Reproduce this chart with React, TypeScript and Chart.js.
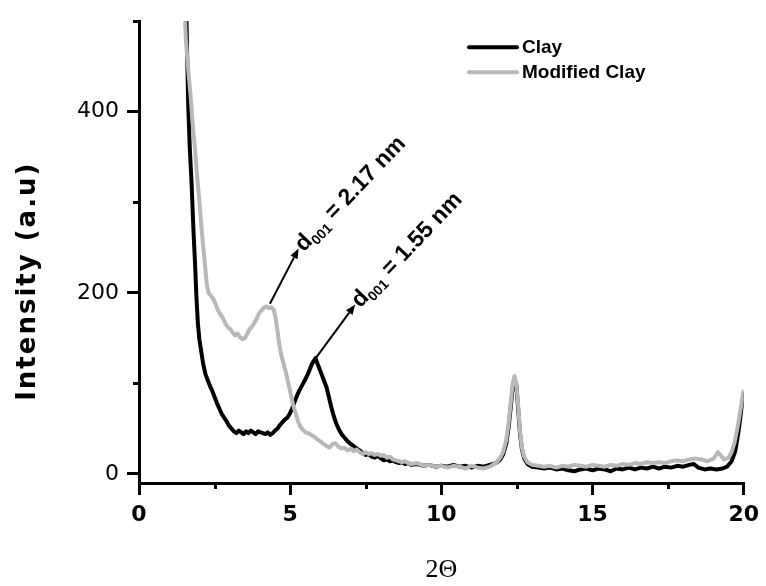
import React, { useEffect, useRef } from "react";
import { Chart, registerables } from "chart.js";
Chart.register(...registerables);

// 2Θ (degrees) and intensity (a.u.)
const clayTheta = [1.56, 1.6, 1.63, 1.68, 1.74, 1.8, 1.85, 1.9, 1.95, 2.0, 2.06, 2.12, 2.2, 2.28, 2.35, 2.42, 2.5, 2.58, 2.66, 2.74, 2.82, 2.9, 2.98, 3.06, 3.14, 3.22, 3.3, 3.38, 3.46, 3.54, 3.62, 3.7, 3.78, 3.86, 3.94, 4.02, 4.1, 4.18, 4.26, 4.34, 4.42, 4.5, 4.58, 4.66, 4.74, 4.82, 4.9, 4.98, 5.06, 5.14, 5.22, 5.3, 5.38, 5.46, 5.54, 5.62, 5.7, 5.78, 5.84, 5.9, 5.96, 6.04, 6.12, 6.2, 6.28, 6.36, 6.44, 6.52, 6.6, 6.7, 6.8, 6.9, 7.0, 7.1, 7.2, 7.3, 7.4, 7.5, 7.6, 7.7, 7.8, 7.9, 8.0, 8.1, 8.2, 8.3, 8.4, 8.5, 8.6, 8.7, 8.8, 8.9, 9.0, 9.2, 9.4, 9.6, 9.8, 10.0, 10.2, 10.4, 10.6, 10.8, 11.0, 11.2, 11.4, 11.6, 11.8, 11.95, 12.05, 12.15, 12.22, 12.3, 12.36, 12.42, 12.48, 12.54, 12.6, 12.66, 12.74, 12.85, 13.0, 13.2, 13.4, 13.6, 13.8, 14.0, 14.2, 14.4, 14.6, 14.8, 15.0, 15.2, 15.4, 15.6, 15.8, 16.0, 16.2, 16.4, 16.6, 16.8, 17.0, 17.2, 17.4, 17.6, 17.8, 18.0, 18.2, 18.35, 18.5, 18.7, 18.9, 19.1, 19.3, 19.45, 19.6, 19.72, 19.82, 19.9, 20.0];
const clayIntensity = [520, 450, 405, 360, 320, 270, 235, 195, 165, 148, 135, 122, 110, 103, 97, 92, 85, 78, 72, 66, 62, 58, 53, 50, 47, 45, 48, 46, 44, 47, 45, 48, 46, 44, 47, 46, 45, 44, 46, 43, 45, 48, 50, 54, 57, 60, 62, 66, 72, 79, 86, 92, 97, 102, 107, 113, 120, 125, 128, 122, 117, 110, 103, 96, 85, 74, 64, 56, 50, 44, 40, 36, 33, 31, 28, 26, 23, 21, 22, 19, 18, 20, 17, 15, 16, 14, 15, 13, 12, 13, 11, 12, 10, 11, 9, 10, 8, 9, 8, 10, 8, 9, 7, 9, 8, 10, 12, 16, 22, 34, 50, 75, 95, 105, 98, 72, 45, 28, 17, 11, 8, 7, 6, 7, 5, 6, 4, 3, 5, 6, 4, 6, 5, 3, 6, 5, 7, 5, 7, 6, 8, 6, 8, 7, 9, 8, 10, 11, 7, 5, 6, 5, 6, 8, 14, 25, 45, 65, 90];

const modTheta = [1.5, 1.55, 1.62, 1.7, 1.78, 1.85, 1.92, 2.0, 2.06, 2.12, 2.18, 2.24, 2.3, 2.38, 2.46, 2.54, 2.62, 2.7, 2.78, 2.86, 2.94, 3.02, 3.1, 3.18, 3.26, 3.34, 3.42, 3.5, 3.58, 3.66, 3.74, 3.82, 3.9, 3.98, 4.06, 4.14, 4.22, 4.3, 4.38, 4.46, 4.52, 4.58, 4.64, 4.7, 4.78, 4.86, 4.94, 5.02, 5.1, 5.18, 5.26, 5.34, 5.42, 5.5, 5.6, 5.7, 5.8, 5.9, 6.0, 6.1, 6.2, 6.3, 6.4, 6.5, 6.6, 6.7, 6.8, 6.9, 7.0, 7.1, 7.2, 7.3, 7.4, 7.5, 7.6, 7.7, 7.8, 7.9, 8.0, 8.1, 8.2, 8.3, 8.4, 8.5, 8.6, 8.7, 8.8, 8.9, 9.0, 9.2, 9.4, 9.6, 9.8, 10.0, 10.2, 10.4, 10.6, 10.8, 11.0, 11.2, 11.4, 11.6, 11.8, 11.95, 12.05, 12.15, 12.22, 12.3, 12.36, 12.42, 12.48, 12.54, 12.6, 12.66, 12.74, 12.85, 13.0, 13.2, 13.4, 13.6, 13.8, 14.0, 14.2, 14.4, 14.6, 14.8, 15.0, 15.2, 15.4, 15.6, 15.8, 16.0, 16.2, 16.4, 16.6, 16.8, 17.0, 17.2, 17.4, 17.6, 17.8, 18.0, 18.2, 18.4, 18.6, 18.8, 19.0, 19.15, 19.25, 19.35, 19.5, 19.6, 19.7, 19.8, 19.9, 20.0];
const modIntensity = [520, 480, 450, 420, 385, 360, 330, 300, 275, 252, 232, 210, 200, 197, 193, 187, 180, 176, 172, 166, 162, 160, 156, 153, 155, 151, 149, 150, 155, 160, 163, 167, 172, 178, 181, 184, 185, 183, 184, 181, 172, 158, 143, 132, 122, 112, 100, 88, 76, 67, 58, 52, 49, 46, 45, 43, 41, 38, 36, 33, 31, 29, 33, 34, 30, 28, 29, 26, 28, 25, 27, 24, 22, 24, 22, 23, 21, 22, 20, 21, 18, 19, 16, 15, 14, 13, 14, 12, 11, 12, 9, 10, 8, 9, 7, 9, 8, 6, 9, 7, 6, 8, 12, 18, 25, 38, 55, 80, 100, 108, 100, 76, 48, 30, 19, 13, 10, 9, 8, 9, 7, 9, 8, 10, 9, 8, 10, 9, 8, 10, 9, 11, 10, 12, 11, 13, 12, 13, 12, 14, 15, 14, 16, 17, 16, 14, 17, 24, 20, 16, 18, 24, 35, 52, 72, 93];

const xTicks = [0, 5, 10, 15, 20];
const yTicks = [0, 200, 400];
const xMinorTicks = [2.5, 7.5, 12.5, 17.5];
const yMinorTicks = [100, 300, 500];

const seriesNames = ["Clay", "Modified Clay"];
const seriesColors = ["#000000", "#b8b8b8"];
const yTitle = "Intensity (a.u)";

// annotation arrows: [θ, I] of tail and head, and their labels
const arrowFrom = [[4.33, 188], [5.87, 129]];
const arrowTo = [[5.28, 249], [7.15, 187]];
const arrowValues = ["2.17", "1.55"];

const decorPlugin = {
  id: "decor",
  afterDraw(chart: any) {
    const { ctx, chartArea, scales } = chart;
    const xs = scales.x;
    const ys = scales.y;
    ctx.save();
    ctx.strokeStyle = "#000";
    ctx.lineWidth = 3;
    yMinorTicks.forEach((v) => {
      const py = Math.round(ys.getPixelForValue(v)) + 0.5;
      ctx.beginPath();
      ctx.moveTo(chartArea.left - 6, py);
      ctx.lineTo(chartArea.left, py);
      ctx.stroke();
    });
    xMinorTicks.forEach((v) => {
      const px = Math.round(xs.getPixelForValue(v)) + 0.5;
      ctx.beginPath();
      ctx.moveTo(px, chartArea.bottom);
      ctx.lineTo(px, chartArea.bottom + 6);
      ctx.stroke();
    });

    // y-axis title
    ctx.save();
    ctx.translate(28, chartArea.top + 260);
    ctx.rotate(-Math.PI / 2);
    ctx.font = "bold 26px 'DejaVu Sans', Verdana, sans-serif";
    (ctx as any).letterSpacing = "2px";
    ctx.textAlign = "center";
    ctx.textBaseline = "middle";
    ctx.fillStyle = "#000";
    ctx.fillText(yTitle, 0, 0);
    ctx.restore();

    // arrows and labels
    arrowFrom.forEach((f, i) => {
      const t = arrowTo[i];
      const x0 = xs.getPixelForValue(f[0]);
      const y0 = ys.getPixelForValue(f[1]);
      const x1 = xs.getPixelForValue(t[0]);
      const y1 = ys.getPixelForValue(t[1]);
      const ang = Math.atan2(y1 - y0, x1 - x0);
      const hl = 10;
      const hw = 4;
      ctx.strokeStyle = "#000";
      ctx.fillStyle = "#000";
      ctx.lineWidth = 2;
      ctx.beginPath();
      ctx.moveTo(x0, y0);
      ctx.lineTo(x1 - hl * Math.cos(ang), y1 - hl * Math.sin(ang));
      ctx.stroke();
      ctx.beginPath();
      ctx.moveTo(x1, y1);
      ctx.lineTo(x1 - hl * Math.cos(ang) + hw * Math.sin(ang), y1 - hl * Math.sin(ang) - hw * Math.cos(ang));
      ctx.lineTo(x1 - hl * Math.cos(ang) - hw * Math.sin(ang), y1 - hl * Math.sin(ang) + hw * Math.cos(ang));
      ctx.closePath();
      ctx.fill();

      ctx.save();
      ctx.translate(x1 + 5, y1 + 4);
      ctx.rotate(-0.81);
      ctx.textBaseline = "alphabetic";
      ctx.textAlign = "left";
      ctx.font = "bold 23px 'Liberation Sans', Arial, sans-serif";
      let cx = 0;
      ctx.fillText("d", cx, 0);
      cx += ctx.measureText("d").width;
      ctx.font = "bold 14px 'Liberation Sans', Arial, sans-serif";
      ctx.fillText("001", cx, 5);
      cx += ctx.measureText("001").width;
      ctx.font = "bold 23px 'Liberation Sans', Arial, sans-serif";
      ctx.fillText(" = " + arrowValues[i] + " nm", cx, 0);
      ctx.restore();
    });

    // legend
    ctx.font = "bold 19px 'Liberation Sans', Arial, sans-serif";
    ctx.textBaseline = "middle";
    ctx.textAlign = "left";
    seriesNames.forEach((name, i) => {
      const ly = chartArea.top + 26 + i * 25;
      const lx = chartArea.left + 330;
      ctx.strokeStyle = seriesColors[i];
      ctx.lineWidth = 4;
      ctx.lineCap = "round";
      ctx.beginPath();
      ctx.moveTo(lx, ly);
      ctx.lineTo(lx + 48, ly);
      ctx.stroke();
      ctx.fillStyle = "#000";
      ctx.fillText(name, lx + 53, ly + 1);
    });
    ctx.restore();
  },
};

export default function App() {
  const ref = useRef<HTMLCanvasElement | null>(null);
  useEffect(() => {
    if (!ref.current) return;
    const chart = new Chart(ref.current, {
      type: "scatter",
      data: {
        datasets: [
          {
            label: seriesNames[0],
            data: clayTheta.map((x, i) => ({ x, y: clayIntensity[i] })),
            showLine: true,
            borderColor: seriesColors[0],
            borderWidth: 4,
            pointRadius: 0,
            borderJoinStyle: "round",
            order: 1,
          },
          {
            label: seriesNames[1],
            data: modTheta.map((x, i) => ({ x, y: modIntensity[i] })),
            showLine: true,
            borderColor: seriesColors[1],
            borderWidth: 4,
            pointRadius: 0,
            borderJoinStyle: "round",
            order: 0,
          },
        ],
      },
      options: {
        responsive: false,
        animation: false,
        layout: { padding: { top: 17, right: 17, left: 0, bottom: 0 } },
        plugins: { legend: { display: false }, tooltip: { enabled: false } },
        scales: {
          x: {
            type: "linear",
            min: 0,
            max: 20,
            afterFit: (s: any) => { s.height = 103; },
            afterBuildTicks: (s: any) => { s.ticks = xTicks.map((v) => ({ value: v })); },
            border: { display: true, color: "#000", width: 3 },
            grid: { display: true, drawOnChartArea: false, drawTicks: true, tickLength: 12, lineWidth: 3, color: "#000" },
            ticks: {
              autoSkip: false,
              maxRotation: 0,
              padding: 7,
              color: "#000",
              font: { family: "'DejaVu Sans'", size: 22, weight: "bold" },
            },
            title: {
              display: true,
              text: "2Θ",
              color: "#000",
              font: { family: "'Liberation Serif', serif", size: 26, lineHeight: 1 },
              padding: { top: 0, bottom: 3 },
            },
          },
          y: {
            type: "linear",
            min: -10,
            max: 500,
            afterFit: (s: any) => { s.width = 139; },
            afterBuildTicks: (s: any) => { s.ticks = yTicks.map((v) => ({ value: v })); },
            border: { display: true, color: "#000", width: 3 },
            grid: { display: true, drawOnChartArea: false, drawTicks: true, tickLength: 12, lineWidth: 3, color: "#000" },
            ticks: {
              padding: 8,
              color: "#000",
              font: { family: "'DejaVu Sans'", size: 22 },
            },
          },
        },
      },
      plugins: [decorPlugin],
    });
    return () => chart.destroy();
  }, []);
  return (
    <div style={{ position: "absolute", left: 0, top: 0, width: 766, height: 586, background: "#fff" }}>
      <canvas ref={ref} width={766} height={586} style={{ display: "block" }} />
    </div>
  );
}
